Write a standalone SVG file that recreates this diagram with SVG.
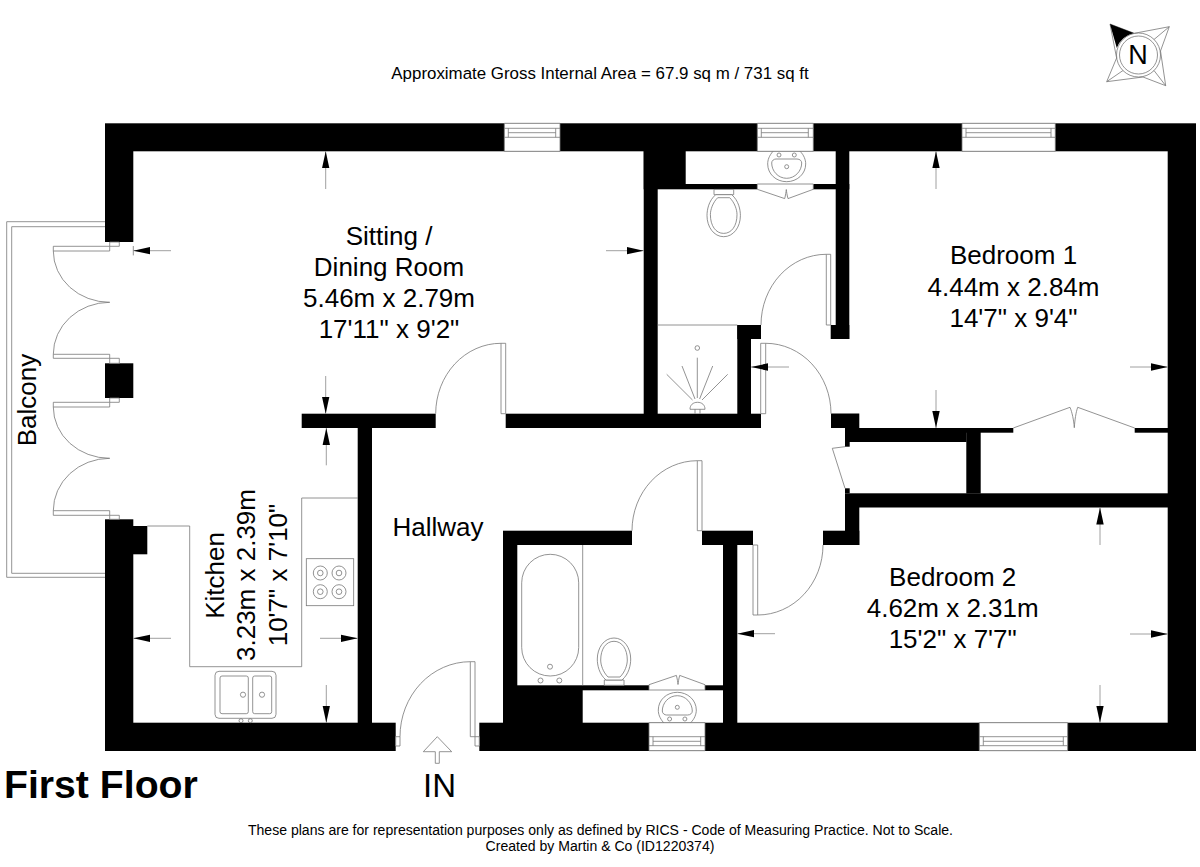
<svg xmlns="http://www.w3.org/2000/svg" xmlns:xlink="http://www.w3.org/1999/xlink" width="1200" height="867" viewBox="0 0 1200 867">
<style>
text{font-family:"Liberation Sans",Arial,sans-serif;fill:#000}
.r{font-size:26px;text-anchor:middle}
.w{fill:#000;stroke:none}
.t{fill:none;stroke:#777;stroke-width:.8}
.f{fill:#fff;stroke:#777;stroke-width:.8}
.d{fill:none;stroke:#888;stroke-width:.8;marker-end:url(#ah)}
</style>
<defs>
<marker id="ah" markerUnits="userSpaceOnUse" markerWidth="18" markerHeight="8" refX="17" refY="4" orient="auto"><path d="M0 .3L17 4L0 7.7Z" fill="#000"/></marker>
<g id="wc"><path class="f" d="M604.3 685.3V680H624V685.3Z"/><path class="f" d="M606 680C599 674 597.3 665 597.3 659C597.3 648 604 638 614 638C624 638 630.7 648 630.7 659C630.7 665 629 674 622 680Z"/><path class="t" d="M608 677C603 672 600.7 665 600.7 660C600.7 649 606 641.3 614 641.3C622 641.3 627.3 649 627.3 660C627.3 665 625 672 620 677Z"/></g>
<g id="basin"><path class="t" d="M773 151.3C769 156 767.7 160 767.7 164C767.7 174 776 181.7 786.7 181.7C797 181.7 805.7 174 805.7 164C805.7 160 804 155 800 151.3"/><path class="t" d="M771.7 163C771.7 160.5 774 159 776 159H797C800 159 801.7 161 801.7 163C801.7 171 795 178.3 786.7 178.3C778 178.3 771.7 171 771.7 163Z"/><circle class="t" cx="779" cy="155" r="2"/><circle class="t" cx="794.3" cy="155" r="2"/><circle class="t" cx="786.7" cy="166.7" r="2"/></g>
<g id="bifold"><path class="f" d="M757.3 184H813.3V189.3L788 198.6C787 195 786.6 192 786.3 189.5C786 192 785.6 195 784.7 198.6L757.3 189.3Z"/></g>
</defs>
<rect width="1200" height="867" fill="#fff"/>

<g id="balcony"><path class="t" d="M105 221.7H6.7V577.3H105M105 226.7H11.7V573.3H105"/></g>

<g id="walls">
<rect class="w" x="105" y="123.3" width="1091" height="28"/>
<rect class="w" x="105" y="151" width="28.3" height="91"/>
<rect class="w" x="105" y="363.3" width="28.3" height="34.7"/>
<rect class="w" x="105" y="519.3" width="28.3" height="204"/>
<rect class="w" x="133" y="526" width="14.3" height="28.3"/>
<rect class="w" x="105" y="722.7" width="290.7" height="28.3"/>
<rect class="w" x="479.3" y="722.7" width="716.7" height="28.3"/>
<rect class="w" x="1167.7" y="151" width="28.3" height="572"/>
<rect class="w" x="301.7" y="413.7" width="134" height="14.3"/>
<rect class="w" x="505.7" y="413.7" width="255.3" height="14.3"/>
<rect class="w" x="357.7" y="428" width="14.3" height="295"/>
<rect class="w" x="643.7" y="151" width="14" height="263"/>
<rect class="w" x="643.7" y="151" width="42" height="33"/>
<rect class="w" x="643.7" y="184" width="113.6" height="5.3"/>
<rect class="w" x="813" y="184" width="36.3" height="5.3"/>
<rect class="w" x="835.7" y="151" width="13.6" height="188"/>
<rect class="w" x="830.7" y="325" width="18.6" height="14"/>
<rect class="w" x="737.3" y="325" width="13.7" height="89"/>
<rect class="w" x="737.3" y="325" width="23.7" height="14"/>
<rect class="w" x="831" y="413.5" width="28.3" height="14.5"/>
<rect class="w" x="845" y="428" width="121.5" height="14"/>
<rect class="w" x="966" y="428" width="47.3" height="4.7"/>
<rect class="w" x="966.3" y="428" width="14.4" height="65.5"/>
<rect class="w" x="1134.7" y="428" width="33.3" height="4.7"/>
<rect class="w" x="845" y="442" width="4.7" height="4.7"/>
<rect class="w" x="845" y="488.3" width="4.7" height="5"/>
<rect class="w" x="845" y="493.3" width="323" height="14.2"/>
<rect class="w" x="845" y="507" width="14.3" height="38"/>
<rect class="w" x="823" y="530.7" width="36.3" height="14.3"/>
<rect class="w" x="503" y="530.7" width="129" height="14.3"/>
<rect class="w" x="702" y="530.7" width="51" height="14.3"/>
<rect class="w" x="503" y="545" width="14.3" height="178"/>
<rect class="w" x="723" y="545" width="14.3" height="178"/>
<rect class="w" x="503" y="690" width="79.7" height="33"/>
<rect class="w" x="517" y="685.3" width="132" height="5"/>
<rect class="w" x="705" y="685.3" width="18" height="5"/>
</g>

<g id="windows">
<path class="f" d="M504.3 123.3H560V151.3H504.3Z"/><path class="t" d="M504.3 128.3H560M504.3 137.3H560M508.3 128.3V137.3M555.7 128.3V137.3M508.3 132.7H555.7"/>
<path class="f" d="M757.3 123.3H813.3V151.3H757.3Z"/><path class="t" d="M757.3 128.3H813.3M757.3 137.3H813.3M761.3 128.3V137.3M808.3 128.3V137.3M761.3 132.7H808.3"/>
<path class="f" d="M962 123.3H1055.3V151.3H962Z"/><path class="t" d="M962 128.3H1055.3M962 137.3H1055.3M966 128.3V137.3M1051 128.3V137.3M966 132.7H1051"/>
<path class="f" d="M649 722.7H705V750.7H649Z"/><path class="t" d="M649 745.7H705M649 736.7H705M653 736.7V745.7M700.7 736.7V745.7M653 741.3H700.7"/>
<path class="f" d="M979.3 722.7H1067.7V750.7H979.3Z"/><path class="t" d="M979.3 745.7H1067.7M979.3 736.7H1067.7M983.3 736.7V745.7M1063.3 736.7V745.7M983.3 741.3H1063.3"/>
</g>

<g id="doors">
<path class="f" d="M109.7 242H119.3V246.3H109.7ZM53.3 246.3H109.7V251H53.3Z"/>
<path class="f" d="M53.3 354.3H109.7V358.3H53.3ZM109.7 358.3H119.3V363.3H109.7Z"/>
<path class="f" d="M109.7 398H119.3V402.3H109.7ZM53.3 402.3H109.7V407H53.3Z"/>
<path class="f" d="M53.3 510.7H109.7V515.3H53.3ZM109.7 515.3H119.3V519.3H109.7Z"/>
<path class="t" d="M53.3 251A56.4 51.3 0 0 0 109.7 302.3A56.4 52 0 0 0 53.3 354.3"/>
<path class="t" d="M53.3 407A56.4 51.3 0 0 0 109.7 458.3A56.4 52.4 0 0 0 53.3 510.7"/>
<path class="f" d="M501 343.3H505.7V413.7H501Z"/><path class="t" d="M501 343.3A65.3 70.4 0 0 0 435.7 413.7"/>
<path class="f" d="M697.3 460.7H702V530.7H697.3Z"/><path class="t" d="M697.3 460.7A65.3 70 0 0 0 632 530.7"/>
<path class="f" d="M826.3 254.3H830.7V325H826.3Z"/><path class="t" d="M826.3 254.3A65.3 70.7 0 0 0 761 325"/>
<path class="f" d="M760.7 343.3H765.7V413.7H760.7Z"/><path class="t" d="M765.7 343.3A65.3 70.4 0 0 1 831 413.7"/>
<path class="f" d="M753 545H757.7V615H753Z"/><path class="t" d="M757.7 615A65.3 70 0 0 0 823 545"/>
<path class="f" d="M470.3 661.7H475V736.7H470.3ZM475 736.7H479.3V746H475ZM395.7 736.7H400V746H395.7Z"/><path class="t" d="M470.3 661.7A70.3 75 0 0 0 400 736.7"/>
<path class="t" d="M845 446.7L832.3 448.3L845 488.3"/>
<path class="t" d="M1013.3 428L1070 407.3C1072 412 1073.8 420 1074.3 427.7C1074.8 420 1076 412 1077.7 407.3L1134.7 428"/>
<use xlink:href="#bifold" href="#bifold"/>
<use xlink:href="#bifold" href="#bifold" transform="translate(-108.3 874) scale(1 -1)"/>
</g>

<g id="fittings">
<path class="t" d="M147.3 526H189.7V666.7H301.7V498H358"/>
<rect class="t" x="306.3" y="558.7" width="47.4" height="47"/>
<g class="t"><circle cx="320.3" cy="573" r="7"/><circle cx="320.3" cy="573" r="2.8"/><circle cx="339" cy="573" r="7"/><circle cx="339" cy="573" r="2.8"/><circle cx="320.3" cy="591.7" r="7"/><circle cx="320.3" cy="591.7" r="2.8"/><circle cx="339" cy="591.7" r="7"/><circle cx="339" cy="591.7" r="2.8"/></g>
<g class="t"><rect x="215" y="671.3" width="61" height="47" rx="4"/><rect x="220" y="676" width="28.3" height="37.7" rx="2"/><rect x="252.7" y="676" width="19" height="37.7" rx="2"/><circle cx="243" cy="694.7" r="2.6"/><circle cx="262" cy="694.7" r="2.6"/><circle cx="241" cy="720.7" r="2"/><circle cx="250.3" cy="720.7" r="2"/></g>
<path class="t" d="M657.7 325H737.3"/>
<circle class="t" cx="697.3" cy="348" r="2.3"/>
<path class="t" d="M697.3 398V357.7M695 399L682 366M699.6 399L712.7 366M692.5 400L666.7 374.3M702 400L727.7 374.3"/>
<path class="f" d="M690 409.3C690 405 693 402.3 697.5 402.3C702 402.3 705 405 705 409.3Z"/><path class="t" d="M695 409.3V413.7M700 409.3V413.7"/>
<path class="t" d="M582.7 545V685.3"/>
<rect class="t" x="521.7" y="554.3" width="57" height="121.7" rx="28.5"/>
<circle class="t" cx="550" cy="666.7" r="2.5"/><circle class="t" cx="540.5" cy="680.5" r="2.5"/><circle class="t" cx="559.3" cy="680.5" r="2.5"/>
<use xlink:href="#wc" href="#wc"/>
<use xlink:href="#wc" href="#wc" transform="translate(109.7 874.7) scale(1 -1)"/>
<use xlink:href="#basin" href="#basin"/>
<use xlink:href="#basin" href="#basin" transform="translate(-109.4 874) scale(1 -1)"/>
<path class="t" d="M435.3 763.3V751.7H423.3L437.3 736.7L451.7 751.7H439.3V763.3Z"/>
</g>

<g id="dimensions">
<path class="d" d="M325.7 189V151.3"/>
<path class="d" d="M325.7 376V413.7"/>
<path class="d" d="M326.3 465.3V428"/>
<path class="d" d="M326.3 685V722.7"/>
<path class="d" d="M171 250.7H133.3"/><path class="t" d="M133.3 246V255.4"/>
<path class="d" d="M606 250.7H643.7"/>
<path class="d" d="M171 638.3H133.3"/>
<path class="d" d="M320 638.3H357.7"/>
<path class="d" d="M936 189V151.3"/>
<path class="d" d="M936 390V428"/>
<path class="d" d="M789 367H751"/>
<path class="d" d="M1130 367H1167.7"/>
<path class="d" d="M1100 545V507.5"/>
<path class="d" d="M1100 685V722.7"/>
<path class="d" d="M775 633.7H737.3"/>
<path class="d" d="M1130 634H1167.7"/>
</g>

<g id="compass">
<path class="t" d="M1110 24L1134.3 33.3M1169.3 26.7L1134.3 33.3M1169.3 26.7L1160.5 51M1165.7 85.7L1160.5 51M1165.7 85.7L1143 77M1106.7 81.7L1143 77M1106.7 81.7L1116.6 58M1110 24L1116.6 58"/>
<path class="t" d="M1169.3 26.7L1154 39.5M1165.7 85.7L1154 70.5M1106.7 81.7L1123 70.5"/>
<path d="M1110 24L1134.3 33.3A22 22 0 0 0 1116.8 48Z" fill="#000"/>
<circle class="t" cx="1138.5" cy="55" r="22"/><circle class="t" cx="1138.5" cy="55" r="19"/>
<text x="1138" y="64" font-size="27" text-anchor="middle">N</text>
</g>

<g id="labels">
<text x="600" y="79" font-size="16.9" text-anchor="middle">Approximate Gross Internal Area = 67.9 sq m / 731 sq ft</text>
<g id="sitting-dining"><text class="r" x="389" y="245">Sitting /</text><text class="r" x="389" y="276">Dining Room</text><text class="r" x="389" y="307">5.46m x 2.79m</text><text class="r" x="389" y="338">17'11" x 9'2"</text></g>
<g id="bedroom-1"><text class="r" x="1013.5" y="264">Bedroom 1</text><text class="r" x="1013.5" y="295.5">4.44m x 2.84m</text><text class="r" x="1013.5" y="326.5">14'7" x 9'4"</text></g>
<g id="bedroom-2"><text class="r" x="952.7" y="586">Bedroom 2</text><text class="r" x="952.7" y="617.3">4.62m x 2.31m</text><text class="r" x="952.7" y="648.3">15'2" x 7'7"</text></g>
<text id="hallway" class="r" x="438" y="536">Hallway</text>
<text id="balcony-label" class="r" transform="translate(36 400) rotate(-90)">Balcony</text>
<g id="kitchen" transform="rotate(-90)"><text class="r" x="-575.5" y="224">Kitchen</text><text class="r" x="-575" y="255">3.23m x 2.39m</text><text class="r" x="-575" y="286.5">10'7" x 7'10"</text></g>
<text x="4" y="798" font-size="39.2" font-weight="700">First Floor</text>
<text x="439.5" y="797.3" font-size="33" text-anchor="middle">IN</text>
<text x="600.5" y="835" font-size="14.05" text-anchor="middle">These plans are for representation purposes only as defined by RICS - Code of Measuring Practice. Not to Scale.</text>
<text x="600" y="851" font-size="14.05" text-anchor="middle">Created by Martin &amp; Co (ID1220374)</text>
</g>
</svg>
